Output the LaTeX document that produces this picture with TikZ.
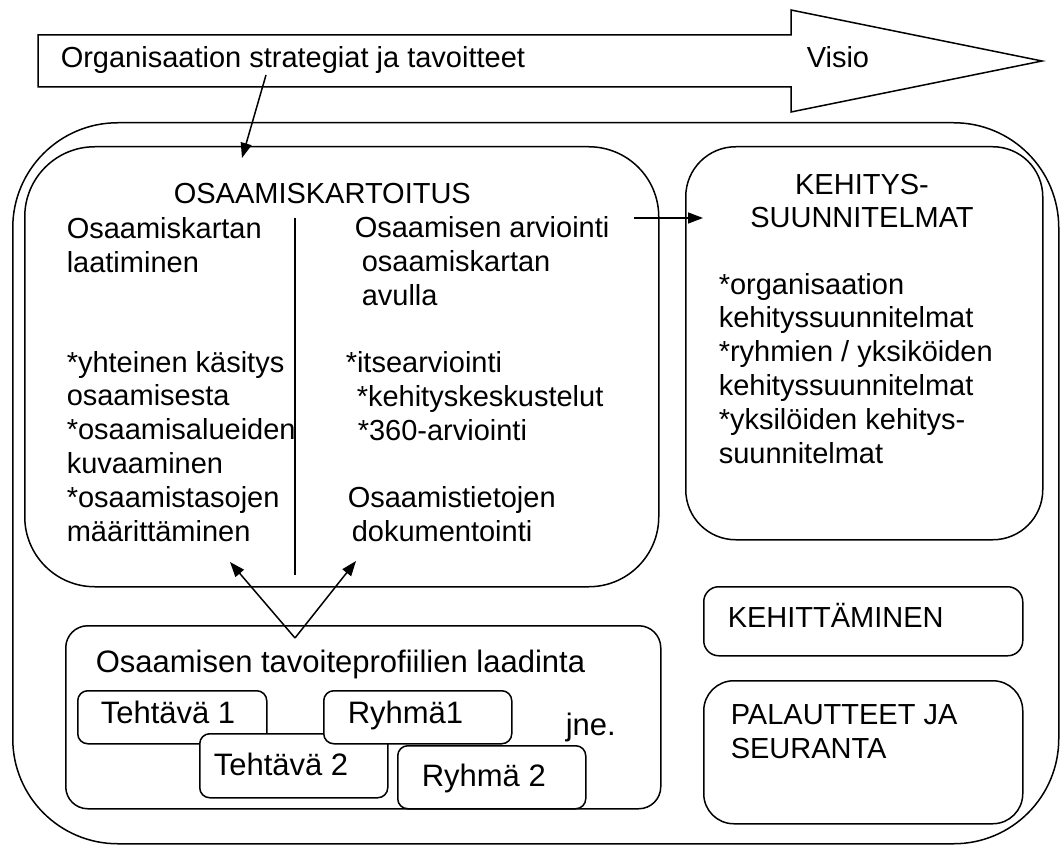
\documentclass[tikz,border=0pt]{standalone}
\usepackage{fontspec}
\setmainfont{Liberation Sans}
\usetikzlibrary{arrows.meta}

\tikzset{
  rbox/.style={draw,fill=white,rounded corners=#1,anchor=north west,inner sep=0pt},
  txt/.style={anchor=base west,inner sep=0pt,align=left},
  big/.style={font=\fontsize{31}{34}\selectfont},
  arr/.style={-{Triangle[length=15pt,width=11pt]}},
}

\begin{document}
\begin{tikzpicture}[x=1pt,y=-1pt,line width=1.5pt,font=\fontsize{29}{33.8}\selectfont]
\useasboundingbox (0,0) rectangle (1060,845);

% banner
\draw[fill=white] (38,35) -- (791,35) -- (791,10) -- (1042,61) -- (791,112)
  -- (791,87) -- (38,87) -- cycle;
\node[txt] (strat) at (60,68) {Organisaation strategiat ja tavoitteet};
\node[txt] (visio) at (806,68) {Visio};

% boxes
\node[rbox=105pt,minimum width=1046pt,minimum height=721pt] (outer) at (12,122) {};
\node[rbox=70pt,minimum width=634pt,minimum height=440pt] (kart) at (24,146) {};
\node[rbox=50pt,minimum width=357pt,minimum height=393pt] (keh) at (685,146) {};
\node[rbox=15pt,minimum width=319pt,minimum height=69pt] (kehit) at (703,586) {};
\node[rbox=30pt,minimum width=319pt,minimum height=143pt] (pal) at (703,680) {};
\node[rbox=22pt,minimum width=595pt,minimum height=183pt] (prof) at (65,625) {};
\node[rbox=10pt,minimum width=189pt,minimum height=53pt] (teh1) at (77,690) {};
\node[rbox=10pt,minimum width=188pt,minimum height=64pt] (teh2) at (199,733) {};
\node[rbox=10pt,minimum width=188pt,minimum height=53pt] (ryh1) at (323,690) {};
\node[rbox=10pt,minimum width=188pt,minimum height=63pt] (ryh2) at (397,745) {};

\draw (295,218) -- (295,575);

% texts (multi-line nodes sit on the baseline of their last line)
\node[txt] (kartt) at (173,204) {OSAAMISKARTOITUS};
\node[txt] (laat) at (66,541) {Osaamiskartan\\laatiminen\\[66pt]
  *yhteinen käsitys\\osaamisesta\\*osaamisalueiden\\kuvaaminen\\
  *osaamistasojen\\määrittäminen};
\node[txt] (arv) at (354,305) {Osaamisen arviointi\\
  \hspace*{7pt}osaamiskartan\\\hspace*{7pt}avulla};
\node[txt] (itse) at (345,440) {*itsearviointi\\
  \hspace*{11pt}*kehityskeskustelut\\\hspace*{12pt}*360-arviointi};
\node[txt] (dok) at (347,541) {Osaamistietojen\\\hspace*{4pt}dokumentointi};

\node[txt,align=center,anchor=base] (keht) at (862,228) {KEHITYS-\\SUUNNITELMAT};
\node[txt] (kehb) at (718,463) {*organisaation\\kehityssuunnitelmat\\
  *ryhmien / yksiköiden\\kehityssuunnitelmat\\*yksilöiden kehitys-\\suunnitelmat};

\node[txt] (kehitt) at (727,627) {KEHITTÄMINEN};
\node[txt] (palt) at (730,758) {PALAUTTEET JA\\SEURANTA};

\node[txt,big] (proft) at (95,672) {Osaamisen tavoiteprofiilien laadinta};
\node[txt,big] (teh1t) at (100,723) {Tehtävä 1};
\node[txt,big] (teh2t) at (213,775) {Tehtävä 2};
\node[txt,big] (ryh1t) at (347,723) {Ryhmä1};
\node[txt,big] (ryh2t) at (421,786) {Ryhmä 2};
\node[txt,big] (jne) at (565,735) {jne.};

% connectors
\coordinate (s1) at (266,75);
\coordinate (s2) at (242,158);
\draw[arr] (s1) -- (s2);
\coordinate (a1) at (634,218);
\draw[arr] (a1) -- ([xshift=18pt]keh.west |- a1);
\coordinate (p0) at (295,638);
\coordinate (p1) at (230,562);
\coordinate (p2) at (356,561);
\draw[arr] (p0) -- (p1);
\draw[arr] (p0) -- (p2);
\end{tikzpicture}
\end{document}
